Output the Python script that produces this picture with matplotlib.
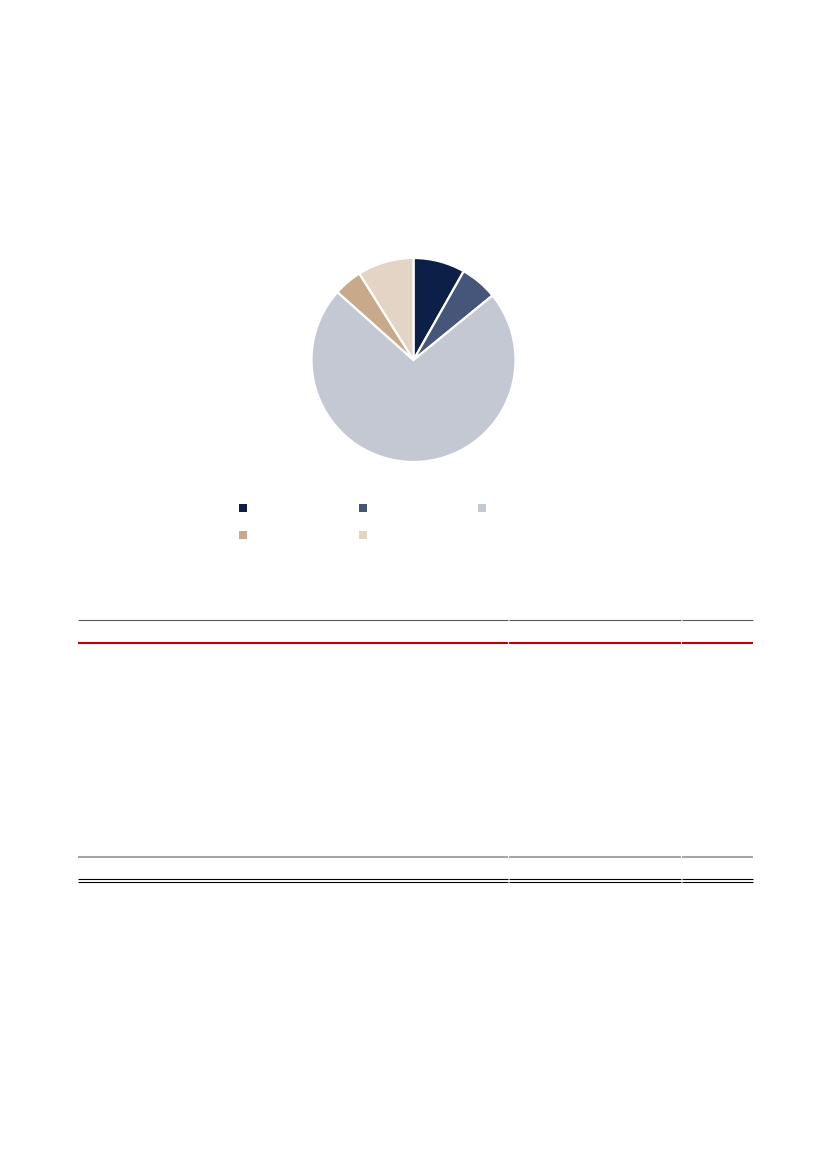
import matplotlib
matplotlib.use("Agg")
import matplotlib.pyplot as plt

# pie shares (%), clockwise from 12 o'clock
categories = ["", "", "", "", ""]
shares = [8.2, 5.9, 72.5, 4.5, 8.9]
colors = ["#0b1f47", "#45567a", "#c4c8d3", "#c8aa8a", "#e3d4c5"]

W, H = 827, 1169
fig = plt.figure(figsize=(W / 100, H / 100), dpi=100)

# overlay axes in pixel coordinates for legend keys and table rules
ov = fig.add_axes([0, 0, 1, 1])
ov.set_xlim(0, W)
ov.set_ylim(H, 0)
ov.axis("off")

# pie
cx, cy, r = 413.5, 360, 102
ax = fig.add_axes([(cx - r) / W, 1 - (cy + r) / H, 2 * r / W, 2 * r / H])
ax.pie(shares, colors=colors, startangle=90, counterclock=False,
       wedgeprops={"edgecolor": "white", "linewidth": 1.6})
ax.set_xlim(-1.0, 1.0)
ax.set_ylim(-1.0, 1.0)
ax.set_aspect("equal")
ax.axis("off")

# legend keys (labels are blank in the source)
key_pos = [(243, 508), (363, 508), (482, 508), (243, 535), (363, 535)]
for (kx, ky), c, lab in zip(key_pos, colors, categories):
    ov.scatter([kx], [ky], marker="s", s=26, color=c, linewidths=0)
    ov.text(kx + 10, ky, lab, va="center", fontsize=8)

# table rules, split into three columns
cols = [(78, 508), (508.7, 681), (681.7, 753)]
for x0, x1 in cols:
    ov.plot([x0, x1], [620, 620], color="#595959", lw=0.8, solid_capstyle="butt")
    ov.plot([x0, x1], [643, 643], color="#c00000", lw=1.5, solid_capstyle="butt")
    ov.plot([x0, x1], [857, 857], color="#a6a6a6", lw=1.5, solid_capstyle="butt")
    ov.plot([x0, x1], [879, 879], color="black", lw=0.8, solid_capstyle="butt")
    ov.plot([x0, x1], [881.5, 881.5], color="black", lw=0.8, solid_capstyle="butt")

fig.savefig("out.png", dpi=100)
